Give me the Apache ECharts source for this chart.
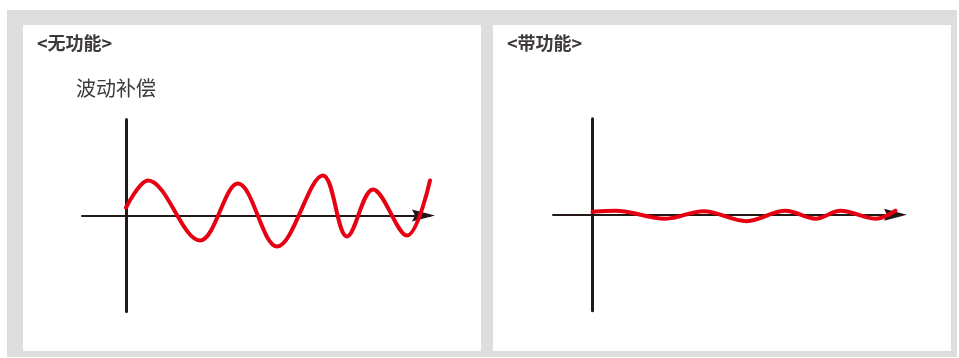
<!DOCTYPE html>
<html>
<head>
<meta charset="utf-8">
<script src="https://cdn.jsdelivr.net/npm/echarts@6/dist/echarts.min.js"></script>
<style>
  html, body { margin: 0; padding: 0; background: #fff; }
  #main { width: 959px; height: 358px; }
</style>
</head>
<body>
<div id="main"></div>
<script>
// 无功能：波动大 (x: 相对纵轴, y: 相对横轴，向上为正；起点、波峰、波谷、终点)
var waveX1 = [0, 22, 74, 112, 151, 197, 221, 247, 281, 304];
var waveY1 = [8, 35, -25, 32, -31, 40, -21, 26, -20, 35];
// 带功能：波动被补偿
var waveX2 = [0, 23, 73, 111, 154, 193, 223, 248, 283, 303];
var waveY2 = [3, 4, -4, 3.5, -6.5, 4, -4, 4, -4, 4];

var titles = ['<无功能>', '<带功能>'];
var subTitle = '波动补偿';

function pairs(xs, ys) {
    return xs.map(function (x, i) { return [x, ys[i]]; });
}

var axisColor = '#231815';
var waveColor = '#e60012';
var textColor = '#3e3a39';
var arrowPath = 'path://M6,0 L12,23 L6,20 L0,23 Z';

function xAxisOf(idx, min, max, arrowShift) {
    return {
        type: 'value', gridIndex: idx, min: min, max: max,
        axisLine: { onZero: true, lineStyle: { color: axisColor, width: 2 },
            symbol: ['none', arrowPath], symbolSize: [12, 23], symbolOffset: [0, arrowShift] },
        axisTick: { show: false }, axisLabel: { show: false }, splitLine: { show: false }
    };
}
function yAxisOf(idx) {
    return {
        type: 'value', gridIndex: idx, min: -96, max: 96,
        axisLine: { onZero: true, lineStyle: { color: axisColor, width: 3 } },
        axisTick: { show: false }, axisLabel: { show: false }, splitLine: { show: false }
    };
}
function waveOf(idx, data) {
    return {
        type: 'line', xAxisIndex: idx, yAxisIndex: idx,
        data: data, smooth: 0.36, symbol: 'none', clip: false,
        lineStyle: { color: waveColor, width: 4, cap: 'round' }
    };
}

var myChart = echarts.init(document.getElementById('main'));
var option = {
    animation: false,
    graphic: [
        { type: 'rect', z: -10, shape: { x: 7, y: 10, width: 950, height: 347 }, style: { fill: '#dcdddc' } },
        { type: 'rect', z: -9, shape: { x: 23, y: 25, width: 458, height: 326 }, style: { fill: '#fff' } },
        { type: 'rect', z: -9, shape: { x: 493, y: 25, width: 458, height: 326 }, style: { fill: '#fff' } }
    ],
    title: [
        { text: titles[0], left: 37, top: 34, padding: 0,
          textStyle: { fontSize: 18, fontWeight: 'bold', color: textColor, fontFamily: 'Noto Sans CJK SC' } },
        { text: titles[1], left: 507, top: 34, padding: 0,
          textStyle: { fontSize: 18, fontWeight: 'bold', color: textColor, fontFamily: 'Noto Sans CJK SC' } },
        { text: subTitle, left: 76, top: 78, padding: 0,
          textStyle: { fontSize: 20, fontWeight: 'normal', color: textColor, fontFamily: 'Noto Sans CJK SC' } }
    ],
    grid: [
        { left: 82, top: 119.5, width: 348, height: 192 },
        { left: 553, top: 118.7, width: 342.5, height: 192 }
    ],
    xAxis: [xAxisOf(0, -44, 304, -6.5), xAxisOf(1, -39.5, 303, 0)],
    yAxis: [yAxisOf(0), yAxisOf(1)],
    series: [waveOf(0, pairs(waveX1, waveY1)), waveOf(1, pairs(waveX2, waveY2))]
};
myChart.setOption(option);
</script>
</body>
</html>
